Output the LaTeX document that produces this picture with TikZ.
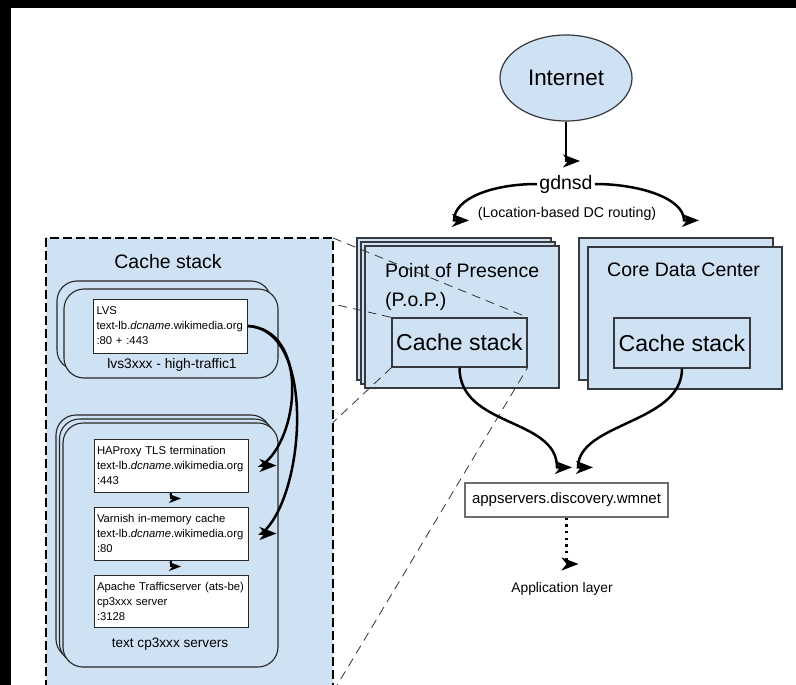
\documentclass[tikz,border=0pt]{standalone}
\usepackage{fontspec}
\setmainfont{Liberation Sans}
\usetikzlibrary{shapes.geometric,arrows.meta}

\definecolor{cacheblue}{RGB}{207,226,243}
\definecolor{boxline}{RGB}{54,57,61}
\definecolor{appline}{RGB}{110,110,110}

\newcommand{\fsz}[2]{\fontsize{#1}{#2}\selectfont}

\begin{document}
\begin{tikzpicture}[x=1pt,y=-1pt,
  every node/.style={inner sep=0pt},
  dcbox/.style={draw=boxline,fill=cacheblue,line width=1.2pt,
    minimum width=194pt,minimum height=142pt},
  cachebox/.style={draw=boxline,fill=cacheblue,line width=1.2pt,font=\fsz{23}{28}},
  hostgroup/.style={draw=black!85,fill=cacheblue,line width=1.1pt,rounded corners=20pt},
  svcbox/.style={draw=black!85,fill=white,line width=1pt,minimum width=154pt,
    minimum height=53pt,text width=148pt,align=left,inner sep=3pt,font=\fsz{11.3}{15}},
  flow/.style={line width=2.5pt,-{Stealth[length=17pt,width=13pt,inset=5pt]}},
  smallflow/.style={line width=1.3pt,-{Stealth[length=12pt,width=9pt,inset=3.5pt]}},
  zoomline/.style={draw=black!80,line width=0.8pt,dash pattern=on 9pt off 6pt}]

  \useasboundingbox (0,0) rectangle (796,685);
  \clip (0,0) rectangle (796,685);
  \fill[white] (0,0) rectangle (796,685);

  % frame
  \fill[black] (0,0) rectangle (796,8);
  \fill[black] (0,0) rectangle (11,685);

  % dns
  \node[ellipse,draw=boxline,fill=cacheblue,line width=1.2pt,minimum width=132pt,
    minimum height=86pt,font=\fsz{22.4}{26}] (internet) at (566,78) {Internet};
  \node[inner sep=2pt,font=\fsz{19.5}{24}] (gdnsd) at (566,184) {gdnsd};
  \node[font=\fsz{14.2}{17}] (routing) at (567,214) {(Location-based DC routing)};

  % point of presence
  \node[dcbox] (popb) at (454,309) {};
  \node[dcbox] (popm) at (458,313) {};
  \node[dcbox] (popf) at (462,317) {};
  \node[anchor=north west,align=left,font=\fsz{19.5}{29}] (poptext) at (385,263)
    {Point of Presence\\(P.o.P.)};
  \node[cachebox,minimum width=135pt,minimum height=49pt] (popc) at (459.5,342.5)
    {Cache stack};

  % core data center
  \node[dcbox] (coreb) at (676,309) {};
  \node[dcbox] (coref) at (685,318) {};
  \node[anchor=north west,font=\fsz{19.5}{24}] (coretext) at (607,263)
    {Core Data Center};
  \node[cachebox,minimum width=136pt,minimum height=50pt] (corec) at (682,343)
    {Cache stack};

  % application layer
  \node[draw=appline,fill=white,line width=1.2pt,minimum width=203pt,
    minimum height=34pt,font=\fsz{15}{18}] (app) at (566.5,500)
    {appservers.discovery.wmnet};
  \node[font=\fsz{13.8}{17}] (applayer) at (562,589) {Application layer};

  % zoom lines
  \coordinate (csnw) at (46,238);
  \coordinate (csse) at (333,692);
  \draw[zoomline] (csse |- csnw) -- (popc.north east);
  \draw[zoomline] (csnw) -- (popc.north west);
  \draw[zoomline] (csnw |- csse) -- (popc.south west);
  \draw[zoomline] (csse) -- (popc.south east);

  % cache stack detail
  \draw[line width=2pt,dash pattern=on 9pt off 4pt,fill=cacheblue] (csnw) rectangle (csse);
  \node[font=\fsz{19.5}{24}] (cstitle) at (168,262) {Cache stack};

  \node[hostgroup,minimum width=214pt,minimum height=89pt] (lvsb) at (164,325.5) {};
  \node[hostgroup,minimum width=214pt,minimum height=89pt] (lvsf) at (171,333.5) {};
  \node[svcbox,minimum height=54pt] (lvs) at (170.5,326)
    {LVS\\text-lb.\textit{dcname}.wikimedia.org\\:80 + :443};
  \node[font=\fsz{13.8}{17}] (lvslabel) at (172,365) {lvs3xxx - high-traffic1};

  \node[hostgroup,minimum width=215pt,minimum height=244pt] (cpb) at (163.5,537) {};
  \node[hostgroup,minimum width=215pt,minimum height=244pt] (cpm) at (167,541) {};
  \node[hostgroup,minimum width=215pt,minimum height=244pt] (cpf) at (170.5,545) {};
  \node[svcbox] (hap) at (171,465.5)
    {HAProxy TLS termination\\text-lb.\textit{dcname}.wikimedia.org\\:443};
  \node[svcbox] (varn) at (171,533.5)
    {Varnish in-memory cache\\text-lb.\textit{dcname}.wikimedia.org\\:80};
  \node[svcbox,minimum height=52pt] (ats) at (171,601)
    {Apache Trafficserver (ats-be)\\cp3xxx server\\:3128};
  \node[font=\fsz{13.6}{17}] (cplabel) at (170,644) {text cp3xxx servers};

  % connectors
  \draw[flow,line width=2pt] (internet.south) |- ([xshift=14pt,yshift=23pt]gdnsd.center);
  \draw[flow] (gdnsd.west) .. controls +(-45,0) and +(0,-22) .. ([yshift=17pt]popb.north)
    -- ([xshift=15pt,yshift=17pt]popb.north);
  \draw[flow] (gdnsd.east) .. controls +(45,0) and +(0,-22) .. ([xshift=8pt,yshift=17pt]coreb.north)
    -- ([xshift=23pt,yshift=17pt]coreb.north);
  \draw[flow] (popc.south) .. controls +(0,60) and +(0,-50) .. ([xshift=-9.5pt,yshift=15pt]app.north)
    -- ([xshift=5.5pt,yshift=15pt]app.north);
  \draw[flow] (corec.south) .. controls +(0,55) and +(0,-45) .. ([xshift=11.5pt,yshift=15pt]app.north)
    -- ([xshift=26.5pt,yshift=15pt]app.north);
  \draw[flow,line width=2.2pt,dash pattern=on 2.2pt off 4.5pt] (app.south)
    |- ([xshift=16.5pt,yshift=25pt]applayer.center);

  \draw[flow] (lvs.east) .. controls +(62,4) and +(38,-26) .. ([xshift=13pt]hap.east)
    -- ([xshift=28pt]hap.east);
  \draw[flow] (lvs.east) .. controls +(70,4) and +(43,-34) .. ([xshift=13pt]varn.east)
    -- ([xshift=28pt]varn.east);
  \draw[smallflow] (hap.south) |- ([xshift=10pt,yshift=8pt]varn.north);
  \draw[smallflow] (varn.south) |- ([xshift=10pt,yshift=8pt]ats.north);

\end{tikzpicture}
\end{document}
